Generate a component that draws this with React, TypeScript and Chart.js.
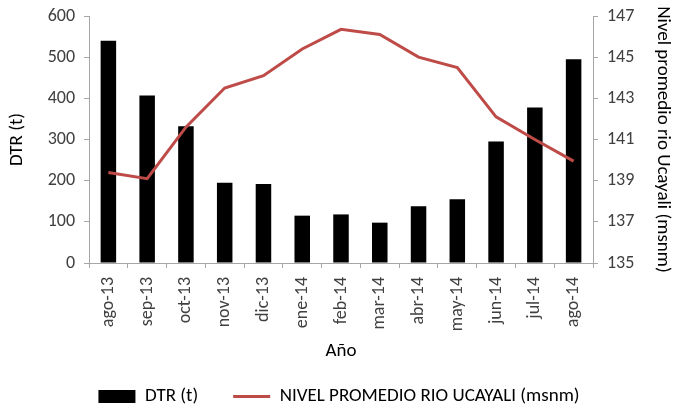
import React, { useEffect, useRef } from "react";
import { Chart, registerables } from "chart.js";

Chart.register(...registerables);

const categories = ["ago-13", "sep-13", "oct-13", "nov-13", "dic-13", "ene-14", "feb-14", "mar-14", "abr-14", "may-14", "jun-14", "jul-14", "ago-14"];
const dtrValues = [540, 407, 332, 195, 192, 115, 118, 98, 138, 155, 295, 378, 495];
const nivelValues = [139.4, 139.1, 141.6, 143.5, 144.1, 145.4, 146.35, 146.1, 145.0, 144.5, 142.1, 141.0, 139.95];
const dtrLabel = "DTR (t)";
const nivelLabel = "NIVEL PROMEDIO RIO UCAYALI (msnm)";
const xTitle = "Año";
const yLeftTitle = "DTR (t)";
const yRightTitle = "Nivel promedio rio Ucayali (msnm)";

const FONT = "Carlito, Calibri, Lato, sans-serif";
const RED = "#be4b48";
const AXIS = "#a6a6a6";
const TICK_TEXT = "#404040";

export default function App() {
  const ref = useRef<HTMLCanvasElement | null>(null);
  useEffect(() => {
    if (!ref.current) return;
    const chart = new Chart(ref.current, {
      type: "bar",
      data: {
        labels: categories,
        datasets: [
          {
            type: "bar",
            label: dtrLabel,
            data: dtrValues,
            backgroundColor: "#000000",
            yAxisID: "y",
            barPercentage: 0.4,
            categoryPercentage: 1,
            order: 2,
          } as any,
          {
            type: "line",
            label: nivelLabel,
            data: nivelValues,
            borderColor: RED,
            backgroundColor: RED,
            borderWidth: 3,
            pointRadius: 0,
            tension: 0,
            yAxisID: "y1",
            order: 1,
          } as any,
        ],
      },
      options: {
        responsive: false,
        animation: false,
        layout: { padding: { top: 16, left: 0, right: 0, bottom: 0 } },
        plugins: {
          tooltip: { enabled: false },
          legend: {
            position: "bottom",
            labels: {
              usePointStyle: true,
              pointStyleWidth: 37,
              boxHeight: 13,
              padding: 35,
              color: "#000",
              font: { family: FONT, size: 19 },
              generateLabels: () => [
                { text: dtrLabel, fillStyle: "#000", strokeStyle: "#000", lineWidth: 0, pointStyle: "rect", datasetIndex: 0, hidden: false, fontColor: "#000" } as any,
                { text: nivelLabel, fillStyle: RED, strokeStyle: RED, lineWidth: 3, pointStyle: "line", datasetIndex: 1, hidden: false, fontColor: "#000" } as any,
              ],
            },
          },
        },
        scales: {
          x: {
            offset: true,
            grid: { display: true, offset: true, drawOnChartArea: false, drawTicks: true, tickLength: 5, color: AXIS },
            border: { display: true, color: AXIS },
            ticks: { minRotation: 90, maxRotation: 90, color: TICK_TEXT, font: { family: FONT, size: 18 }, padding: 9 },
            title: { display: true, text: xTitle, color: "#000", font: { family: FONT, size: 19 }, padding: { top: 0, bottom: -11 } },
            afterFit: (s: any) => { s.height = 89; s.paddingLeft = 0; s.paddingRight = 0; },
          },
          y: {
            position: "left",
            min: 0,
            max: 600,
            ticks: { stepSize: 100, color: TICK_TEXT, font: { family: FONT, size: 18 }, padding: 9 },
            grid: { drawOnChartArea: false, drawTicks: true, tickLength: 5, color: AXIS },
            border: { display: true, color: AXIS },
            title: { display: true, text: yLeftTitle, color: "#000", font: { family: FONT, size: 19 }, padding: { top: 6, bottom: 0 } },
            afterFit: (s: any) => { s.width = 89; s.paddingTop = 0; s.paddingBottom = 0; },
          },
          y1: {
            position: "right",
            min: 135,
            max: 147,
            ticks: { stepSize: 2, color: TICK_TEXT, font: { family: FONT, size: 18 }, padding: 9 },
            grid: { drawOnChartArea: false, drawTicks: true, tickLength: 5, color: AXIS },
            border: { display: true, color: AXIS },
            title: { display: true, text: yRightTitle, color: "#000", font: { family: FONT, size: 19 }, padding: { top: 4, bottom: 0 } },
            afterFit: (s: any) => { s.width = 85; s.paddingTop = 0; s.paddingBottom = 0; },
          },
        },
      } as any,
    });
    return () => chart.destroy();
  }, []);
  return (
    <div style={{ position: "fixed", left: 0, top: 0, width: 678, height: 416, background: "#fff" }}>
      <canvas ref={ref} width={678} height={416} />
    </div>
  );
}
